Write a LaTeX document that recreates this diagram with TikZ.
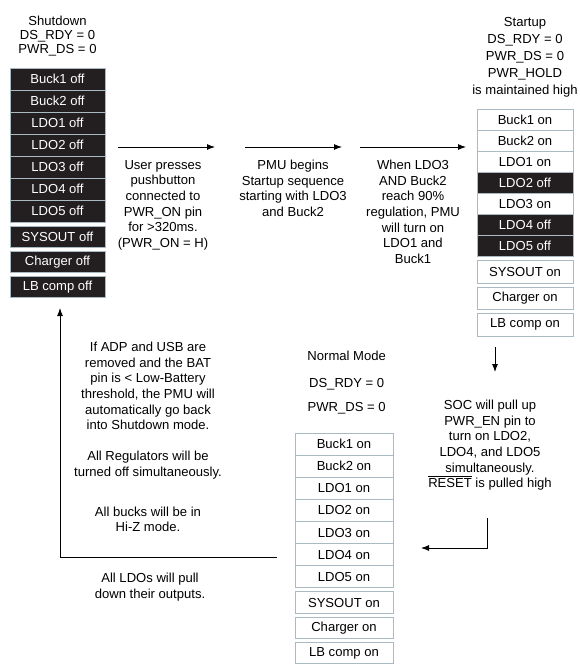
\documentclass[tikz,border=0pt]{standalone}
\usepackage{fontspec}
\setmainfont{Liberation Sans}
\usetikzlibrary{arrows.meta, positioning}

\definecolor{regline}{HTML}{A9BAC3}
\definecolor{regdark}{HTML}{231F20}
\newcommand{\fs}{\fontsize{9.8pt}{11.7pt}\selectfont}

\begin{document}
\begin{tikzpicture}[
  x = 0.75pt, y = -0.75pt,
  node distance = 0pt,
  regbox/.style = {draw=regline, line width=0.75pt, inner sep=0pt, outer sep=0pt, font=\fs},
  onbox/.style = {regbox, fill=white},
  offbox/.style = {regbox, fill=regdark, text=white},
  sdw/.style = {minimum width=71.25pt, minimum height=16.5pt},
  sdx/.style = {minimum width=71.25pt, minimum height=15.6pt},
  suw/.style = {minimum width=72pt, minimum height=15.8pt},
  sux/.style = {minimum width=72pt, minimum height=16.9pt},
  nmw/.style = {minimum width=73.5pt, minimum height=16.6pt},
  nmx/.style = {minimum width=73.5pt, minimum height=16pt},
  note/.style = {align=center, inner sep=0pt, font=\fs},
  arr/.style = {-{Latex[length=6pt, width=4.5pt]}, line width=0.7pt}
]
\useasboundingbox (0,0) rectangle (580,665);

% shutdown column
\node[offbox, sdw, anchor=north] (sd1) at (57.5,68) {Buck1 off};
\node[offbox, sdw, below=of sd1] (sd2) {Buck2 off};
\node[offbox, sdw, below=of sd2] (sd3) {LDO1 off};
\node[offbox, sdw, below=of sd3] (sd4) {LDO2 off};
\node[offbox, sdw, below=of sd4] (sd5) {LDO3 off};
\node[offbox, sdw, below=of sd5] (sd6) {LDO4 off};
\node[offbox, sdw, below=of sd6] (sd7) {LDO5 off};
\node[offbox, sdx, below=3.2pt of sd7] (sd8) {SYSOUT off};
\node[offbox, sdx, below=3.2pt of sd8] (sd9) {Charger off};
\node[offbox, sdx, below=3.2pt of sd9] (sd10) {LB comp off};
\node[note, font=\fontsize{9.8pt}{10.5pt}\selectfont, above=9pt of sd1] (sdhead)
  {Shutdown\\DS\_RDY = 0\\PWR\_DS = 0};

% startup column
\node[onbox, suw, anchor=north] (su1) at (525,109) {Buck1 on};
\node[onbox, suw, below=of su1] (su2) {Buck2 on};
\node[onbox, suw, below=of su2] (su3) {LDO1 on};
\node[offbox, suw, below=of su3] (su4) {LDO2 off};
\node[onbox, suw, below=of su4] (su5) {LDO3 on};
\node[offbox, suw, below=of su5] (su6) {LDO4 off};
\node[offbox, suw, below=of su6] (su7) {LDO5 off};
\node[onbox, sux, below=3pt of su7] (su8) {SYSOUT on};
\node[onbox, sux, below=3pt of su8] (su9) {Charger on};
\node[onbox, sux, below=3pt of su9] (su10) {LB comp on};
\node[note, font=\fontsize{9.8pt}{12.75pt}\selectfont, above=8.5pt of su1] (suhead)
  {Startup\\DS\_RDY = 0\\PWR\_DS = 0\\PWR\_HOLD\\is maintained high};

% normal mode column
\node[onbox, nmw, anchor=north] (nm1) at (344,433) {Buck1 on};
\node[onbox, nmw, below=of nm1] (nm2) {Buck2 on};
\node[onbox, nmw, below=of nm2] (nm3) {LDO1 on};
\node[onbox, nmw, below=of nm3] (nm4) {LDO2 on};
\node[onbox, nmw, below=of nm4] (nm5) {LDO3 on};
\node[onbox, nmw, below=of nm5] (nm6) {LDO4 on};
\node[onbox, nmw, below=of nm6] (nm7) {LDO5 on};
\node[onbox, nmx, below=3pt of nm7] (nm8) {SYSOUT on};
\node[onbox, nmx, below=3pt of nm8] (nm9) {Charger on};
\node[onbox, nmx, below=3pt of nm9] (nm10) {LB comp on};
\node[note, above=14pt of nm1, xshift=2pt] (nmhead)
  {Normal Mode\\[8.5pt]DS\_RDY = 0\\[6.5pt]PWR\_DS = 0};

% notes
\node[note, anchor=north] (press) at (163,160)
  {User presses\\pushbutton\\connected to\\PWR\_ON pin\\for >320ms.\\(PWR\_ON = H)};
\node[note, anchor=north] (begin) at (293,160)
  {PMU begins\\Startup sequence\\starting with LDO3\\and Buck2};
\node[note, anchor=north] (reach) at (413,160)
  {When LDO3\\AND Buck2\\reach 90\%\\regulation, PMU\\will turn on\\LDO1 and\\Buck1};
\node[note, anchor=north] (soc) at (490,400)
  {SOC will pull up\\PWR\_EN pin to\\turn on LDO2,\\LDO4, and LDO5\\simultaneously.\\\smash{$\overline{\mbox{RESET}}$} is pulled high};
\node[note, anchor=north] (lowbat) at (148,342)
  {If ADP and USB are\\removed and the BAT\\pin is < Low-Battery\\threshold, the PMU will\\automatically go back\\into Shutdown mode.\\[11.7pt]All Regulators will be\\turned off simultaneously.\\[18pt]All bucks will be in\\Hi-Z mode.};
\node[note, anchor=north] (ldos) at (150,573)
  {All LDOs will pull\\down their outputs.};

% arrow ends
\coordinate (a1s) at (118,147);
\coordinate (a1e) at (215,147);
\coordinate (a2s) at (245,147);
\coordinate (a2e) at (342,147);
\coordinate (a3s) at (360,147);
\coordinate (a3e) at (466,147);
\coordinate (dns) at (495,347);
\coordinate (dne) at (495,372);
\coordinate (els) at (487,518);
\coordinate (ele) at (421,548);
\coordinate (rts) at (277,557);
\coordinate (rte) at (60,308);

\draw[arr] (a1s) -- (a1e);
\draw[arr] (a2s) -- (a2e);
\draw[arr] (a3s) -- (a3e);
\draw[arr] (dns) -- (dne);
\draw[arr] (els) |- (ele);
\draw[arr] (rts) -| (rte);
\end{tikzpicture}
\end{document}
